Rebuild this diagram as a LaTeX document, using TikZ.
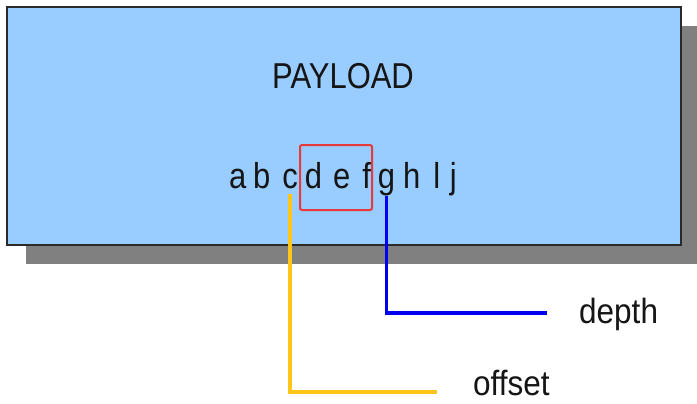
\documentclass[tikz,border=0pt]{standalone}
\usepackage{fontspec}
\setmainfont{Liberation Sans}
\usetikzlibrary{shadows}
\definecolor{boxblue}{HTML}{99CCFF}
\definecolor{shadowgray}{HTML}{808080}
\definecolor{borderdark}{HTML}{2A2A2A}
\definecolor{lineyellow}{HTML}{FFC61A}
\definecolor{lineblue}{HTML}{0000F0}
\definecolor{selred}{HTML}{E83A3A}
\definecolor{inkblack}{HTML}{151515}
\newcommand\hsq[1]{\scalebox{0.86}[1]{#1}}
\newcommand\hsl[1]{\scalebox{0.9}[1]{#1}}
\begin{document}
\begin{tikzpicture}[x=1pt,y=-1pt,
  letter/.style={inner sep=0pt, anchor=base, text=inkblack, font=\fontsize{36}{40}\selectfont},
  label/.style={inner sep=0pt, anchor=base west, text=inkblack, font=\fontsize{35}{40}\selectfont},
  conn/.style={line width=3.2pt},
]
\useasboundingbox (0,0) rectangle (697,404);
\fill[white] (0,0) rectangle (697,404);
% payload box with shadow
\node[draw=borderdark, line width=1.5pt, fill=boxblue, minimum width=674pt, minimum height=238pt,
  drop shadow={shadow xshift=19pt, shadow yshift=-19pt, fill=shadowgray, opacity=1}] (payload) at (344,126) {};
\node[letter] (title) at (343,89) {\hsq{PAYLOAD}};
% letters
\node[letter] (a) at (237.7,188) {\hsq{a}};
\node[letter] (b) at (261.7,188) {\hsq{b}};
\node[letter] (c) at (290,188) {\hsq{c}};
\node[letter] (d) at (313.5,188) {\hsq{d}};
\node[letter] (e) at (341.7,188) {\hsq{e}};
\node[letter] (f) at (366.7,188) {\hsq{f}};
\node[letter] (g) at (386.5,188) {\hsq{g}};
\node[letter] (h) at (411.7,188) {\hsq{h}};
\node[letter] (l) at (436.7,188) {\hsq{l}};
\node[letter] (j) at (453.3,188) {\hsq{j}};
% selection box
\node[draw=selred, line width=2pt, rounded corners=2pt, minimum width=72pt, minimum height=65pt, inner sep=0pt] (sel) at (336,177.5) {};
% labels
\node[label] (depth) at (579,323) {\hsl{depth}};
\node[label] (offset) at (473,395) {\hsl{offset}};
\coordinate (depthend) at (547,313);
\coordinate (offsetend) at (437,392);
% connectors
\draw[conn, lineblue] (g.south) |- (depthend);
\draw[conn, lineyellow] ([yshift=-5pt]c.south) |- (offsetend);
\end{tikzpicture}
\end{document}
